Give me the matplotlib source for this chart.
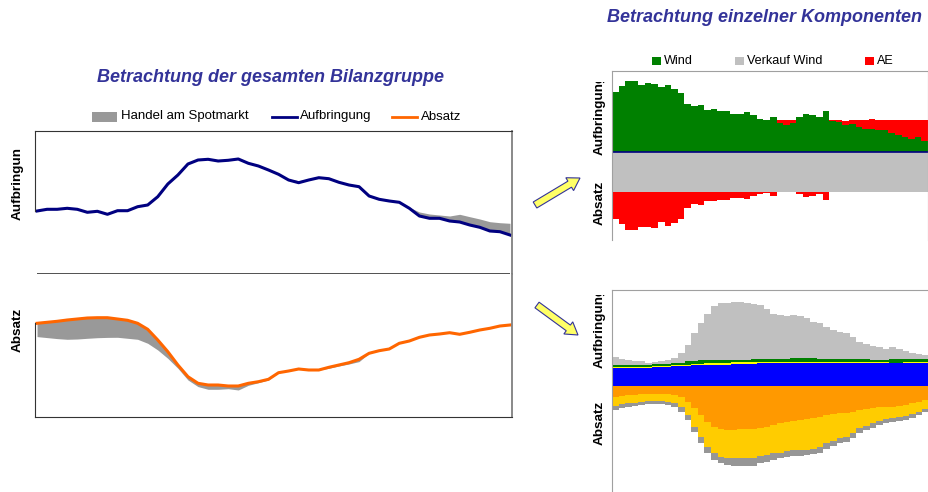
import numpy as np
import matplotlib.pyplot as plt
from matplotlib.patches import FancyArrow, Rectangle

plt.rcParams['font.family'] = ['Liberation Sans', 'DejaVu Sans']

W, H = 929, 492

# Gesamte Bilanzgruppe (halbstuendlich)
aufbringung = [63, 64.7, 64.7, 65.7, 64.7, 61.7, 62.7, 59.7, 63.3, 63.3, 67.3, 69, 77.3, 90, 99, 110,
               114, 114.7, 113, 113.7, 115, 110.7, 108, 104, 99.7, 94, 91.3, 94, 96.3, 95.3, 91.7, 89,
               87.3, 78, 74.7, 73, 71.7, 65.7, 58, 55.7, 55.7, 53, 52, 49, 46.7, 43, 42.3, 39]
handel_auf = [0, 0, 0, 0, 0, 0, 0, 0, 0, 0, 0, 0, 0, 0, 0, 0, 0, 0, 0, 0, 0, 0, 0, 0, 0,
              1, 2, 1, 0, 0, 0, 0, 0, 1, 1, 1.5, 1, 1, 4, 4.3, 3.3, 5, 7.7, 8.3, 8.3, 9.3, 9, 11.7]
absatz = [93.7, 94.7, 95.7, 97, 98, 99, 99.3, 99.3, 98, 96.7, 93.7, 87.7, 77, 65.3, 52, 40.3,
          33.7, 32, 32, 31, 31, 33.7, 35.3, 37.7, 44.3, 46, 48, 47, 47, 49.7, 52, 54.3,
          57.7, 63.7, 66.3, 68, 73.7, 76, 79.7, 82, 83, 84.3, 82.7, 84.7, 87, 88.7, 91, 92]
handel_abs = [13.3, 15.3, 17.3, 19.3, 20, 20.3, 20, 19.7, 18.3, 18, 16, 14, 10, 6.7, 3.3, 3.3,
              3.3, 4.3, 4.3, 2.7, 4, 2, 1, 0.7, 0, 0, 0, 0, 0, 1, 1, 1.3,
              2.3, 0, 0, 0, 0, 0, 0, 0, 0, 0, 0, 0, 0, 0, 0, 0]

# Komponenten: Wind / Verkauf Wind / AE
wind = [59.7, 66, 71.3, 71.3, 67, 69.3, 68.3, 65, 67.3, 63.3, 58.7, 48.3, 45.7, 47, 41.7, 42.7,
        41, 41.3, 38.3, 38.3, 39.7, 36.7, 33.3, 31.7, 35, 29, 26.7, 29, 35, 37.7, 36.7, 35,
        41, 31, 30, 26.7, 27.7, 25, 23.3, 23.3, 22.3, 21.7, 19, 16.7, 15, 13.3, 15, 11]
ae_auf = [0, 0, 0, 0, 0, 0, 0, 0, 0, 0, 0, 0, 0, 0, 0, 0, 0, 0, 0, 0, 0, 0, 0, 0, 0,
          2.7, 5.7, 2.7, 0, 0, 0, 0, 0, 0.7, 1.7, 4.3, 4, 6.7, 9, 9.3, 10, 10, 13.3, 15.7, 16.7, 19, 17.3, 20.7]
verkauf_wind = [40] * 48
ae_abs = [26.7, 32.3, 37.7, 37.7, 35, 35, 35.7, 30, 34.3, 31, 26.7, 15.7, 12.3, 13.3, 9, 9,
          8.3, 8.3, 5.7, 5.7, 6.7, 4.3, 1.7, 1, 4.3, 0, 0, 0, 1.7, 5, 4.3, 2.3,
          7.7, 0, 0, 0, 0, 0, 0, 0, 0, 0, 0, 0, 0, 0, 0, 0]

# Komponenten: uebrige Aufbringung / Absatz
blau = [18.3, 18.3, 18.3, 18.3, 18.3, 18.3, 19, 19, 19, 20, 20, 20, 20.7, 20.7, 21.3, 21.3,
        21.3, 21.3, 22.3, 22.3, 22.3, 22.3, 23, 23, 23, 23, 23, 23, 23, 23, 23, 23,
        23, 23, 23, 23, 23, 23, 23, 23, 23, 23, 23, 23, 23, 23, 23, 23]
gelb = [0.5, 0.5, 0.5, 0.5, 0.5, 0.5, 1, 1, 1, 1.3, 1, 1, 1, 1.7, 1.7, 1.7,
        1.7, 1.7, 1.3, 1.3, 1.3, 1.3, 1.3, 1.3, 0.7, 0.7, 0.7, 0.7, 0.7, 1.3, 1.3, 1.3,
        1.3, 1.3, 1.3, 1.3, 1.3, 1.3, 0.7, 0.7, 0.7, 0.7, 0.3, 0.3, 1, 1, 1, 1]
gruen = [2.5, 2.5, 2.5, 2.5, 2.5, 2.5, 2, 2, 2, 1.7, 2, 4, 3.3, 3.6, 3, 3,
         3, 3, 2.4, 2.4, 2.4, 3.1, 2.4, 2.4, 3, 3, 3, 4, 4, 3.4, 3.4, 3,
         3, 3, 3, 3, 2.4, 2.4, 3, 2.3, 2.3, 2.3, 3.4, 3.4, 3, 3, 3, 3]
grau_auf = [8, 5.3, 4.3, 4, 3.7, 2, 2.3, 3, 4, 4.7, 9.7, 16, 27.7, 36.7, 46, 54,
            56.7, 57.3, 58, 58.3, 57.3, 55, 54, 50, 45.3, 44.7, 43.7, 43, 42.3, 40, 36.7, 35.3,
            32, 28.7, 26.7, 25.3, 22.7, 17.7, 15.3, 14, 12.7, 11, 12, 10, 8, 6.3, 5, 3.7]
orange_abs = [11.3, 10, 9.3, 8.7, 8.3, 8, 8, 8, 8.3, 9, 11.3, 15.7, 22.3, 29, 35.7, 40.7,
              43.3, 44, 44, 43.3, 43.3, 43.3, 41.7, 40.7, 39, 37.3, 35.7, 35, 34, 33.3, 32.3, 30.7,
              29, 28, 27.3, 26.7, 25.7, 24, 23.3, 22.3, 21.3, 20.7, 21.3, 20, 19, 17.3, 15.7, 14]
gelb_abs = [8.7, 8.3, 8, 8, 7.3, 7, 7, 7, 7.3, 7.7, 9.3, 13.3, 18.3, 21.7, 25, 26.7,
            27.3, 28.3, 28.3, 29, 29, 29, 28.3, 28.3, 28.3, 29.3, 29.3, 29, 30, 30.7, 31, 30,
            28.3, 26.7, 25, 24, 21.7, 18.3, 16.7, 15, 13.3, 12.7, 11, 11.3, 11, 10.7, 10, 9.3]
grau_abs = [4, 4, 3.3, 3.3, 3.3, 3.3, 3, 3, 3.3, 4, 5, 5, 5, 6, 6.7, 6.7,
            6.7, 6.7, 7.7, 7.7, 7.7, 7.7, 7.3, 6.7, 6.7, 5.7, 5.7, 5.7, 5.7, 5, 5, 6,
            6, 5.3, 5, 5, 5, 4.3, 4, 5, 4.3, 4, 3.3, 3.3, 4, 3.7, 3.3, 2.3]

fig = plt.figure(figsize=(W / 100, H / 100), dpi=100)


def px_axes(x0, y0, x1, y1):
    return fig.add_axes([x0 / W, 1 - y1 / H, (x1 - x0) / W, (y1 - y0) / H])


idx = np.arange(48)
edges = np.arange(49)
dark = '#333333'
light = '#a0a0a0'

# --- linke Seite: Aufbringung ---
ax1 = px_axes(35, 131, 512, 274)
auf = np.array(aufbringung)
ax1.fill_between(idx, auf, auf + np.array(handel_auf), color='#999999', lw=0)
ax1.plot(idx, auf, color='#000080', lw=2.2)
ax1.set_xlim(-0.2, 47.2)
ax1.set_ylim(0, 143)
ax1.set_xticks([])
ax1.set_yticks([])
ax1.spines['bottom'].set_visible(False)
ax1.spines['left'].set_bounds(63, 143)
for s in ['top', 'left']:
    ax1.spines[s].set_color(dark)
ax1.spines['right'].set_color('#808080')
ax1.spines['right'].set_linewidth(1.3)
ax1.hlines(0.5, 0, 47, color='#222222', lw=1.1, clip_on=False)

# --- linke Seite: Absatz ---
ax2 = px_axes(35, 274, 512, 417)
ab = np.array(absatz)
ax2.fill_between(idx, ab - np.array(handel_abs), ab, color='#999999', lw=0)
ax2.plot(idx, ab, color='#ff6600', lw=2.2)
ax2.set_xlim(-0.2, 47.2)
ax2.set_ylim(0, 143)
ax2.set_xticks([])
ax2.set_yticks([])
ax2.spines['top'].set_visible(False)
ax2.spines['left'].set_bounds(0, 94)
for s in ['bottom', 'left']:
    ax2.spines[s].set_color(dark)
ax2.spines['right'].set_color('#808080')
ax2.spines['right'].set_linewidth(1.3)

# --- rechts oben: Wind ---
ax3 = px_axes(612, 71, 928, 240)
w = np.array(wind)
vk = np.array(verkauf_wind)
ax3.stairs(w, edges, baseline=0, fill=True, color='#008000', lw=0)
ax3.stairs(w + np.array(ae_auf), edges, baseline=w, fill=True, color='#ff0000', lw=0)
ax3.stairs(np.zeros(48), edges, baseline=-vk, fill=True, color='#c0c0c0', lw=0)
ax3.stairs(-vk, edges, baseline=-vk - np.array(ae_abs), fill=True, color='#ff0000', lw=0)
ax3.axhline(0, color='#000080', lw=1.2)
ax3.set_xlim(0, 48)
ax3.set_ylim(-88, 81)
ax3.set_xticks([])
ax3.set_yticks([])
ax3.spines['bottom'].set_visible(False)
for s in ['top', 'left', 'right']:
    ax3.spines[s].set_color(light)

# --- rechts unten: uebrige Komponenten ---
ax4 = px_axes(612, 290, 929, 492)
up = [blau, gelb, gruen, grau_auf]
up_cols = ['#0000ff', '#ffff00', '#008000', '#c0c0c0']
base = np.zeros(48)
for vals, col in zip(up, up_cols):
    top = base + np.array(vals)
    ax4.stairs(top, edges, baseline=base, fill=True, color=col, lw=0)
    base = top
down = [orange_abs, gelb_abs, grau_abs]
down_cols = ['#ff9900', '#ffcc00', '#969696']
base = np.zeros(48)
for vals, col in zip(down, down_cols):
    low = base - np.array(vals)
    ax4.stairs(base, edges, baseline=low, fill=True, color=col, lw=0)
    base = low
ax4.set_xlim(0, 48)
ax4.set_ylim(-106, 96)
ax4.set_xticks([])
ax4.set_yticks([])
ax4.spines['bottom'].set_visible(False)
ax4.spines['right'].set_visible(False)
for s in ['top', 'left']:
    ax4.spines[s].set_color(light)

# --- Texte, Legenden und Pfeile ---
ov = fig.add_axes([0, 0, 1, 1])
ov.set_xlim(0, W)
ov.set_ylim(H, 0)
ov.axis('off')

title_kw = dict(color='#333399', fontsize=13, fontweight='bold', fontstyle='italic',
                ha='center', va='center')
ov.text(271, 77, 'Betrachtung der gesamten Bilanzgruppe', **title_kw)
ov.text(765, 18, 'Betrachtung einzelner Komponenten', **title_kw)

lab_kw = dict(fontsize=9.7, fontweight='bold', rotation=90, ha='center')
ov.text(18, 183, 'Aufbringun', va='center', **lab_kw)
ov.text(18, 330, 'Absatz', va='center', **lab_kw)
ov.text(600, 203, 'Absatz', va='center', **lab_kw)
ov.text(600, 423, 'Absatz', va='center', **lab_kw)
# Beschriftung oben abgeschnitten
for y_end, y_cut in [(155, 82), (368, 295)]:
    t = ov.text(600, y_end, 'Aufbringung', va='bottom', clip_on=True, **lab_kw)
    t.set_clip_path(Rectangle((585, y_cut), 30, y_end - y_cut + 5,
                              transform=ov.transData))

# Legende links
leg_fs = 9.5
ov.add_patch(Rectangle((92, 112), 25, 10, color='#999999', lw=0))
ov.text(121, 116.5, 'Handel am Spotmarkt', fontsize=leg_fs, va='center')
ov.plot([272, 297], [116.5, 116.5], color='#000080', lw=2)
ov.text(300, 116.5, 'Aufbringung', fontsize=leg_fs, va='center')
ov.plot([392, 417], [116.5, 116.5], color='#ff6600', lw=2)
ov.text(421, 116.5, 'Absatz', fontsize=leg_fs, va='center')

# Legende rechts
for x0, col, txt in [(652, '#008000', 'Wind'), (735, '#c0c0c0', 'Verkauf Wind'),
                     (865, '#ff0000', 'AE')]:
    ov.add_patch(Rectangle((x0, 57), 9, 8, color=col, lw=0))
    ov.text(x0 + 12, 61.5, txt, fontsize=9.1, va='center')

# Pfeile
for (x0, y0), (x1, y1) in [((535, 205), (580, 178)), ((537, 305), (578, 335))]:
    ov.add_patch(FancyArrow(x0, y0, x1 - x0, y1 - y0, width=7, head_width=15,
                            head_length=12, length_includes_head=True,
                            fc='#ffff66', ec='#333399', lw=0.8))

fig.savefig('out.png', dpi=100)
